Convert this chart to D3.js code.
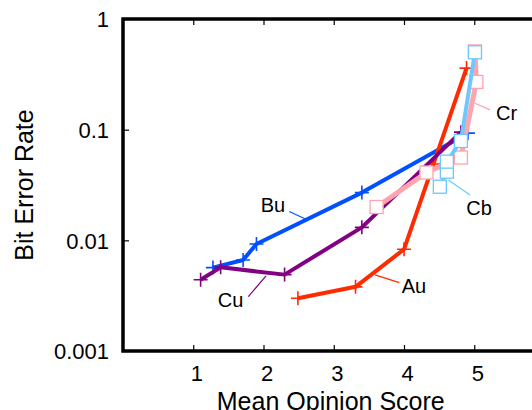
<!DOCTYPE html>
<head>
    <style>
        body { margin: 0; background: #fff; }
        svg { display: block; font-family: "Liberation Sans", Arial, sans-serif; }
        .axis path { display: none; }
        .axis line { stroke: #000; stroke-width: 1.2; }
        .axis text { font-size: 22px; fill: #000; }
    </style>
</head>
<body>
    <script src="https://d3js.org/d3.v7.min.js"></script>
    <script>
        const w = 532, h = 410;

        // series data: [Mean Opinion Score, Bit Error Rate]
        const bu = [[1.28, 0.00567], [1.71, 0.00665], [1.90, 0.00927], [3.40, 0.027], [4.91, 0.093]];
        const cu = [[1.105, 0.0044], [1.39, 0.0057], [2.30, 0.0049], [3.40, 0.0131], [4.81, 0.095]];
        const au = [[2.49, 0.0030], [3.31, 0.0038], [4.00, 0.0083], [4.42, 0.049], [4.89, 0.36]];
        const cr = [[3.61, 0.020], [4.32, 0.041], [4.81, 0.056], [5.03, 0.27], [5.01, 0.51]];
        const cb = [[4.51, 0.0305], [4.61, 0.0417], [4.61, 0.0514], [4.81, 0.079], [5.01, 0.50]];

        const xTicks = [1, 2, 3, 4, 5];
        const yTicks = [1, 0.1, 0.01, 0.001];
        const yTickLabels = ['1', '0.1', '0.01', '0.001'];

        // label: name, text point, leader from, leader to (data units)
        const labels = [
            ['Bu', [2.135, 0.0209], [2.367, 0.0182], [2.605, 0.0155]],
            ['Cu', [1.53, 0.00292], [1.784, 0.0031], [2.036, 0.00477]],
            ['Au', [4.142, 0.00392], [3.933, 0.00415], [3.587, 0.00487]],
            ['Cb', [5.068, 0.0198], [4.631, 0.0351], [4.94, 0.0257]],
            ['Cr', [5.459, 0.143], [5.011, 0.173], [5.224, 0.151]]
        ];

        const series = [
            { name: 'Bu', data: bu, color: '#0050ff', width: 4, marker: 'plus' },
            { name: 'Au', data: au, color: '#ff2a00', width: 4, marker: 'plus' },
            { name: 'Cu', data: cu, color: '#820082', width: 4, marker: 'plus' },
            { name: 'Cr', data: cr, color: '#ffa3ae', width: 5, marker: 'square' },
            { name: 'Cb', data: cb, color: '#6cc8ff', width: 4, marker: 'square' }
        ];

        const mLeft = 123, mRight = 544.5, mTop = 19, mBottom = 351;

        const x = d3.scaleLinear().domain([0, 6]).range([mLeft, mRight]);
        const y = d3.scaleLog().domain([0.001, 1]).range([mBottom, mTop]);

        const svg = d3.select('body')
                      .append('svg')
                      .attr('width', w)
                      .attr('height', h);

        // inward ticks, bottom and top
        svg.append('g')
           .attr('class', 'axis')
           .attr('transform', `translate(0,${mBottom})`)
           .call(d3.axisBottom(x).tickValues(xTicks).tickSize(-6).tickPadding(14).tickFormat(d3.format('d')))
           .selectAll('text')
           .attr('dx', 3);

        svg.append('g')
           .attr('class', 'axis')
           .attr('transform', `translate(0,${mTop})`)
           .call(d3.axisTop(x).tickValues(xTicks).tickSize(-6).tickFormat(''));

        svg.append('g')
           .attr('class', 'axis')
           .attr('transform', `translate(${mLeft},0)`)
           .call(d3.axisLeft(y).tickValues(yTicks).tickSize(-6).tickPadding(14)
                   .tickFormat((d, i) => yTickLabels[i]))
           .selectAll('text')
           .attr('dy', '0.36em');

        // frame
        svg.append('rect')
           .attr('x', mLeft)
           .attr('y', mTop)
           .attr('width', mRight - mLeft)
           .attr('height', mBottom - mTop)
           .attr('fill', 'none')
           .attr('stroke', '#000')
           .attr('stroke-width', 3.5);

        const line = d3.line().x(d => x(d[0])).y(d => y(d[1]));

        series.forEach(s => {
            const g = svg.append('g');
            g.append('path')
             .datum(s.data)
             .attr('d', line)
             .attr('fill', 'none')
             .attr('stroke', s.color)
             .attr('stroke-width', s.width)
             .attr('stroke-linejoin', 'round');

            if (s.marker === 'plus') {
                g.selectAll('path.m')
                 .data(s.data)
                 .enter()
                 .append('path')
                 .attr('class', 'm')
                 .attr('d', d => `M${x(d[0]) - 7},${y(d[1])}h14M${x(d[0])},${y(d[1]) - 7}v14`)
                 .attr('stroke', s.color)
                 .attr('stroke-width', 1.6);
            } else {
                g.selectAll('rect')
                 .data(s.data)
                 .enter()
                 .append('rect')
                 .attr('x', d => x(d[0]) - 6.5)
                 .attr('y', d => y(d[1]) - 6.5)
                 .attr('width', 13)
                 .attr('height', 13)
                 .attr('fill', '#fff')
                 .attr('stroke', s.color)
                 .attr('stroke-width', 1.3);
            }
        });

        // labels with leader lines
        const colorOf = name => series.find(s => s.name === name).color;
        labels.forEach(l => {
            svg.append('line')
               .attr('x1', x(l[2][0])).attr('y1', y(l[2][1]))
               .attr('x2', x(l[3][0])).attr('y2', y(l[3][1]))
               .attr('stroke', colorOf(l[0]))
               .attr('stroke-width', 1.2);
            svg.append('text')
               .attr('x', x(l[1][0]))
               .attr('y', y(l[1][1]))
               .attr('dy', '0.36em')
               .attr('text-anchor', 'middle')
               .style('font-size', '20px')
               .text(l[0]);
        });

        // axis titles
        svg.append('text')
           .attr('x', (mLeft + mRight) / 2 - 3)
           .attr('y', 410)
           .attr('text-anchor', 'middle')
           .style('font-size', '25px')
           .text('Mean Opinion Score');

        svg.append('text')
           .attr('transform', `translate(33,${(mTop + mBottom) / 2}) rotate(-90)`)
           .attr('text-anchor', 'middle')
           .style('font-size', '25px')
           .text('Bit Error Rate');
    </script>
</body>
